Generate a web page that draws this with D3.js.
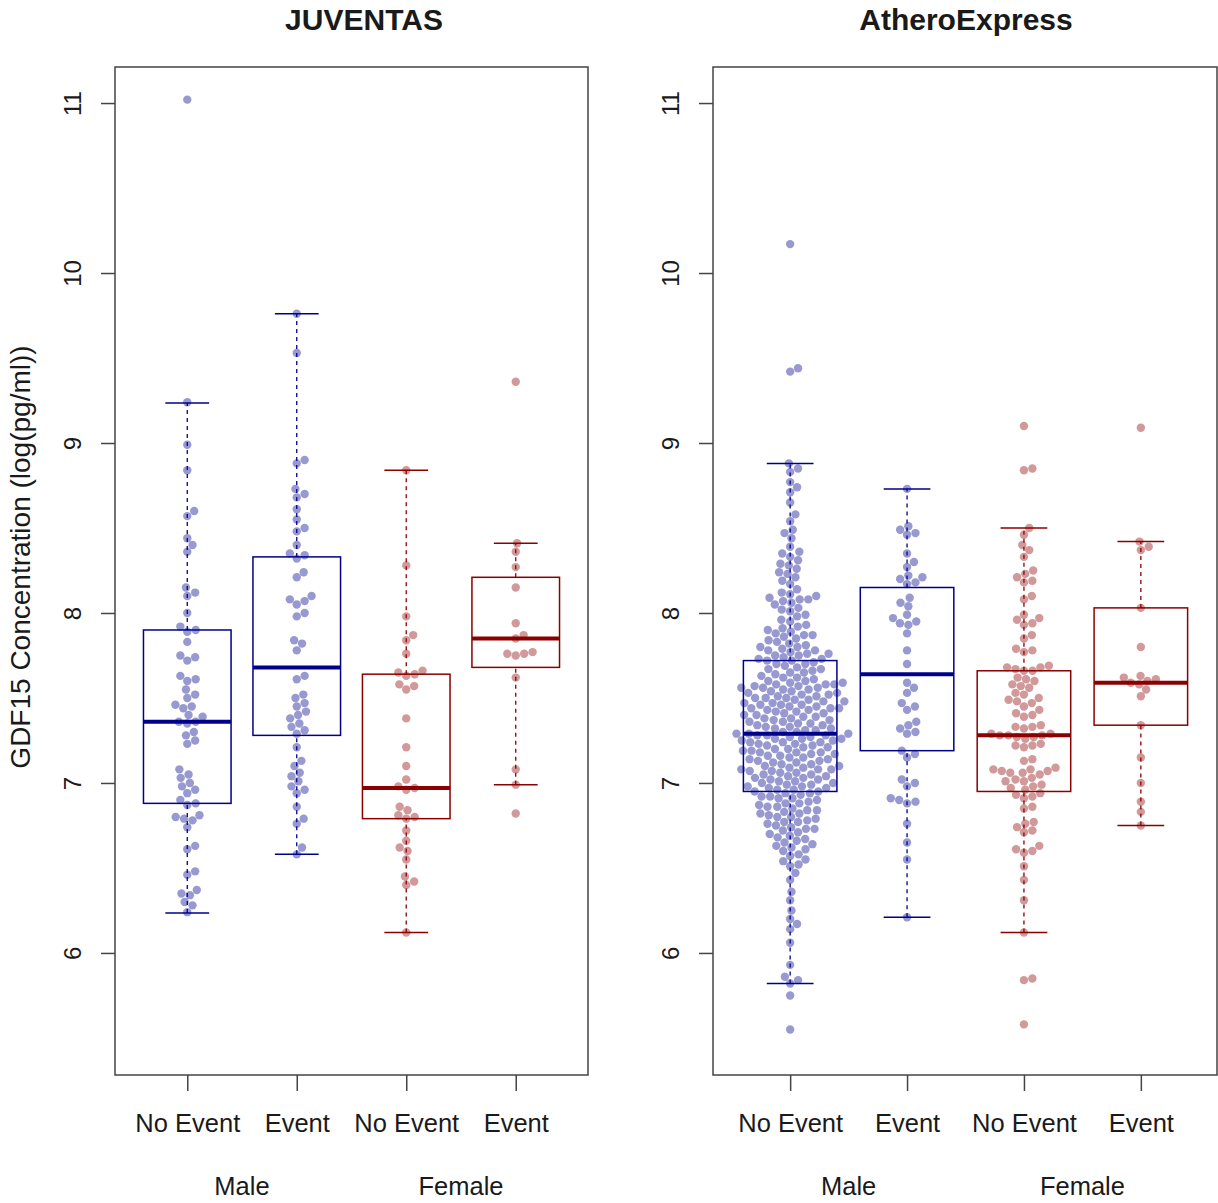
<!DOCTYPE html>
<html>
<head>
<meta charset="utf-8">
<script src="https://cdn.jsdelivr.net/npm/d3@7"></script>
<style>
  body { margin: 0; background: #fff; }
  text { font-family: "Liberation Sans", Arial, Helvetica, sans-serif; fill: #1a1a1a; }
</style>
</head>
<body>
<svg id="chart" width="1218" height="1203"></svg>
<script>
const panelTitles = ['JUVENTAS', 'AtheroExpress'];
const groupLabels = ['No Event', 'Event', 'No Event', 'Event'];
const sexLabels = ['Male', 'Female'];
const yTicks = [6, 7, 8, 9, 10, 11];
const yTitle = 'GDF15 Concentration (log(pg/ml))';

// JUVENTAS, log GDF15 per group
const juvMaleNoEvent = [11.02, 9.24, 8.99, 8.84, 8.60, 8.57, 8.44, 8.40, 8.36, 8.15, 8.12, 8.10, 8.00,
  7.92, 7.90, 7.89, 7.83, 7.75, 7.74, 7.72, 7.63, 7.61, 7.60, 7.55, 7.52, 7.50, 7.46, 7.45, 7.44,
  7.40, 7.39, 7.36, 7.36, 7.35, 7.30, 7.28, 7.25, 7.23, 7.08, 7.05, 7.03, 7.00, 6.98, 6.96, 6.94,
  6.90, 6.88, 6.87, 6.81, 6.80, 6.79, 6.78, 6.74, 6.63, 6.61, 6.48, 6.46, 6.37, 6.35, 6.34, 6.30,
  6.28, 6.24];
const juvMaleEvent = [9.76, 9.53, 8.90, 8.88, 8.73, 8.70, 8.68, 8.61, 8.55, 8.50, 8.48, 8.40, 8.35,
  8.34, 8.32, 8.24, 8.21, 8.10, 8.08, 8.07, 8.05, 8.00, 7.98, 7.84, 7.82, 7.78, 7.63, 7.61, 7.52,
  7.50, 7.47, 7.45, 7.42, 7.40, 7.38, 7.35, 7.33, 7.31, 7.29, 7.21, 7.13, 7.10, 7.06, 7.04, 7.01,
  6.98, 6.96, 6.94, 6.86, 6.79, 6.76, 6.62, 6.58];
const juvFemaleNoEvent = [8.84, 8.28, 7.98, 7.87, 7.84, 7.76, 7.66, 7.65, 7.64, 7.63, 7.58, 7.57,
  7.55, 7.38, 7.21, 7.10, 7.02, 6.98, 6.97, 6.96, 6.86, 6.84, 6.81, 6.80, 6.79, 6.72, 6.66, 6.62,
  6.60, 6.55, 6.45, 6.42, 6.40, 6.12];
const juvFemaleEvent = [9.36, 8.41, 8.36, 8.27, 8.15, 7.94, 7.87, 7.85, 7.77, 7.76, 7.76, 7.75,
  7.62, 7.08, 6.99, 6.82];

// AtheroExpress, log GDF15 per group
const aeMaleNoEvent = [10.17, 9.44, 9.42,
  8.88, 8.85, 8.83, 8.77, 8.74, 8.71, 8.65, 8.58, 8.54, 8.49, 8.47, 8.44,
  8.39, 8.36, 8.35, 8.33, 8.31, 8.29, 8.28, 8.26, 8.24, 8.23, 8.21, 8.19,
  8.17, 8.14, 8.12, 8.11, 8.10, 8.09, 8.08, 8.08, 8.07, 8.06, 8.05, 8.03, 8.02, 8.01,
  7.99, 7.98, 7.96, 7.95, 7.93, 7.92, 7.91, 7.90, 7.89, 7.88, 7.87, 7.87, 7.86, 7.85, 7.84, 7.83,
  7.82, 7.81, 7.80, 7.80, 7.79, 7.78, 7.78, 7.77, 7.76, 7.76, 7.75, 7.75, 7.74, 7.73, 7.73, 7.72,
  7.72, 7.71, 7.70, 7.70, 7.69, 7.68, 7.67, 7.67, 7.66, 7.65, 7.65, 7.64, 7.63, 7.62, 7.62, 7.61,
  7.60, 7.60, 7.59, 7.59, 7.58, 7.58, 7.58, 7.57, 7.57, 7.56, 7.56, 7.56, 7.55, 7.55, 7.54, 7.54,
  7.53, 7.53, 7.52, 7.52, 7.51, 7.51, 7.50, 7.50, 7.50, 7.49, 7.49, 7.48, 7.48, 7.47, 7.47, 7.46,
  7.46, 7.46, 7.45, 7.45, 7.44, 7.44, 7.44, 7.43, 7.43, 7.42, 7.42, 7.41, 7.41, 7.40, 7.40, 7.39,
  7.39, 7.38, 7.38, 7.37, 7.37, 7.36, 7.36, 7.35, 7.35, 7.34, 7.34, 7.33, 7.33, 7.32, 7.32, 7.31,
  7.31, 7.30, 7.30, 7.29, 7.29, 7.29, 7.28, 7.28, 7.28, 7.27, 7.27, 7.26, 7.26, 7.26, 7.25, 7.25,
  7.24, 7.24, 7.24, 7.23, 7.23, 7.22, 7.22, 7.21, 7.21, 7.20, 7.20, 7.19, 7.19, 7.18, 7.18, 7.18,
  7.17, 7.17, 7.16, 7.16, 7.15, 7.15, 7.14, 7.14, 7.13, 7.13, 7.12, 7.12, 7.11, 7.11, 7.10, 7.10,
  7.09, 7.09, 7.08, 7.08, 7.08, 7.07, 7.07, 7.06, 7.06, 7.05, 7.05, 7.04, 7.04, 7.03, 7.03, 7.02,
  7.02, 7.01, 7.01, 7.00, 7.00, 6.99, 6.99, 6.98, 6.98, 6.97, 6.97, 6.96, 6.96, 6.95, 6.95, 6.94,
  6.94, 6.93, 6.92, 6.92, 6.91, 6.91, 6.90, 6.89, 6.88, 6.88, 6.87, 6.86, 6.86, 6.85, 6.84, 6.84,
  6.83, 6.82, 6.82, 6.81, 6.80, 6.80, 6.79, 6.78, 6.77, 6.77, 6.76, 6.75, 6.74, 6.73, 6.73, 6.72,
  6.71, 6.70, 6.69, 6.68, 6.67, 6.66, 6.65, 6.64, 6.63, 6.62, 6.61, 6.60, 6.58, 6.57, 6.55, 6.54,
  6.52, 6.51, 6.47, 6.43, 6.36, 6.31, 6.25, 6.20, 6.17, 6.14, 6.06, 5.93, 5.86, 5.84, 5.82, 5.75, 5.55];
const aeMaleEvent = [8.73, 8.51, 8.49, 8.47, 8.46, 8.35, 8.30, 8.27, 8.22, 8.21, 8.20, 8.18, 8.17,
  8.09, 8.06, 8.04, 7.99, 7.97, 7.95, 7.94, 7.93, 7.88, 7.78, 7.70, 7.59, 7.56, 7.53, 7.47, 7.45,
  7.43, 7.36, 7.34, 7.32, 7.30, 7.29, 7.19, 7.17, 7.15, 7.02, 7.00, 6.98, 6.91, 6.90, 6.89, 6.88,
  6.76, 6.65, 6.55, 6.21];
const aeFemaleNoEvent = [9.10, 8.85, 8.84, 8.50, 8.46, 8.40, 8.37, 8.33, 8.25, 8.23, 8.21, 8.19, 8.18,
  8.10, 8.08, 7.99, 7.97, 7.96, 7.94, 7.93, 7.87, 7.85, 7.79, 7.78, 7.77, 7.69, 7.68, 7.68, 7.67,
  7.66, 7.66, 7.62, 7.61, 7.60, 7.58, 7.57, 7.56, 7.53, 7.52, 7.50, 7.49, 7.48, 7.47, 7.45, 7.43,
  7.41, 7.40, 7.39, 7.34, 7.33, 7.33, 7.32, 7.29, 7.29, 7.28, 7.28, 7.28, 7.27, 7.27, 7.26, 7.23,
  7.22, 7.22, 7.21, 7.14, 7.13, 7.09, 7.08, 7.08, 7.07, 7.07, 7.06, 7.06, 7.05, 7.03, 7.02, 7.01,
  7.01, 6.99, 6.98, 6.97, 6.96, 6.94, 6.93, 6.92, 6.91, 6.86, 6.85, 6.77, 6.76, 6.74, 6.72, 6.71,
  6.63, 6.61, 6.60, 6.59, 6.51, 6.43, 6.31, 6.12, 5.85, 5.84, 5.58];
const aeFemaleEvent = [9.09, 8.42, 8.39, 8.37, 8.03, 7.80, 7.63, 7.62, 7.61, 7.60, 7.59, 7.58, 7.55,
  7.51, 7.34, 7.15, 7.00, 6.89, 6.83, 6.75];

// box stats: [lower whisker, Q1, median, Q3, upper whisker]
const juvBoxStats = [
  [6.235, 6.88, 7.36, 7.90, 9.235],
  [6.58, 7.28, 7.68, 8.33, 9.76],
  [6.12, 6.79, 6.97, 7.64, 8.84],
  [6.99, 7.68, 7.85, 8.21, 8.41]
];
const aeBoxStats = [
  [5.82, 6.95, 7.29, 7.72, 8.88],
  [6.21, 7.19, 7.64, 8.15, 8.73],
  [6.12, 6.95, 7.28, 7.66, 8.50],
  [6.75, 7.34, 7.59, 8.03, 8.42]
];

const boxColors = ['#00008B', '#00008B', '#8B0000', '#8B0000'];

const panels = [
  { title: panelTitles[0], groups: [juvMaleNoEvent, juvMaleEvent, juvFemaleNoEvent, juvFemaleEvent],
    stats: juvBoxStats, left: 115, right: 588, titleX: 364, yLabel: true },
  { title: panelTitles[1], groups: [aeMaleNoEvent, aeMaleEvent, aeFemaleNoEvent, aeFemaleEvent],
    stats: aeBoxStats, left: 713, right: 1218, titleX: 966, yLabel: false }
];

const plotTop = 67, plotBottom = 1075;
const ptR = 4.2, ptGap = 8.6;
const svg = d3.select('#chart');

const y = d3.scaleLinear().domain([5.282, 11.212]).range([plotBottom, plotTop]);

// simple beeswarm: place points in ascending order at the smallest free offset
function swarm(vals, cx) {
  const pts = vals.map(v => ({ v, y: y(v) })).sort((a, b) => a.v - b.v);
  const placed = [];
  pts.forEach(p => {
    const near = placed.filter(q => Math.abs(q.y - p.y) < ptGap);
    const cands = [0];
    near.forEach(q => {
      const dx = Math.sqrt(ptGap * ptGap - (q.y - p.y) ** 2);
      cands.push(q.dx + dx, q.dx - dx);
    });
    cands.sort((a, b) => Math.abs(a) - Math.abs(b));
    for (const c of cands) {
      if (near.every(q => (q.dx - c) ** 2 + (q.y - p.y) ** 2 >= ptGap * ptGap - 0.01)) { p.dx = c; break; }
    }
    placed.push(p);
  });
  return placed.map(p => ({ v: p.v, x: cx + p.dx, y: p.y }));
}

panels.forEach(panel => {
  const x = d3.scaleLinear().domain([0.34, 4.66]).range([panel.left, panel.right]);
  const bw = (x(2) - x(1)) * 0.8;
  const g = svg.append('g');

  // points
  panel.groups.forEach((vals, i) => {
    g.append('g').selectAll('circle')
      .data(swarm(vals, x(i + 1)))
      .join('circle')
      .attr('cx', d => d.x)
      .attr('cy', d => d.y)
      .attr('r', ptR)
      .attr('fill', boxColors[i])
      .attr('fill-opacity', 0.4);
  });

  // boxes
  panel.stats.forEach((s, i) => {
    const cx = x(i + 1), col = boxColors[i];
    const bg = g.append('g').attr('stroke', col).attr('fill', 'none');
    bg.append('line').attr('x1', cx).attr('x2', cx).attr('y1', y(s[0])).attr('y2', y(s[1]))
      .attr('stroke-width', 1.3).attr('stroke-dasharray', '4,4');
    bg.append('line').attr('x1', cx).attr('x2', cx).attr('y1', y(s[3])).attr('y2', y(s[4]))
      .attr('stroke-width', 1.3).attr('stroke-dasharray', '4,4');
    [s[0], s[4]].forEach(v => {
      bg.append('line').attr('x1', cx - bw / 4).attr('x2', cx + bw / 4)
        .attr('y1', y(v)).attr('y2', y(v)).attr('stroke-width', 1.5);
    });
    bg.append('rect').attr('x', cx - bw / 2).attr('y', y(s[3]))
      .attr('width', bw).attr('height', y(s[1]) - y(s[3])).attr('stroke-width', 1.5);
    bg.append('line').attr('x1', cx - bw / 2).attr('x2', cx + bw / 2)
      .attr('y1', y(s[2])).attr('y2', y(s[2])).attr('stroke-width', 4);
  });

  // frame (kept inside the canvas on the right)
  const frameRight = Math.min(panel.right, 1217);
  g.append('rect').attr('x', panel.left).attr('y', plotTop)
    .attr('width', frameRight - panel.left).attr('height', plotBottom - plotTop)
    .attr('fill', 'none').attr('stroke', '#444').attr('stroke-width', 1.5);

  // y axis
  const ya = g.append('g').attr('transform', `translate(${panel.left},0)`)
    .call(d3.axisLeft(y).tickValues(yTicks).tickSize(14).tickFormat(d3.format('d')));
  ya.select('.domain').remove();
  ya.selectAll('.tick line').attr('stroke', '#444').attr('stroke-width', 1.5);
  ya.selectAll('.tick text')
    .attr('x', 0).attr('dy', null)
    .attr('transform', 'translate(-34,0) rotate(-90)')
    .attr('text-anchor', 'middle')
    .style('font-size', '24px').attr('fill', '#1a1a1a');

  // x axis
  const xa = g.append('g').attr('transform', `translate(0,${plotBottom})`)
    .call(d3.axisBottom(x).tickValues([1, 2, 3, 4]).tickSize(16).tickFormat((d, i) => groupLabels[i]));
  xa.select('.domain').remove();
  xa.selectAll('.tick line').attr('stroke', '#444').attr('stroke-width', 1.5);
  xa.selectAll('.tick text').attr('y', 57).attr('dy', null)
    .style('font-size', '25.5px').attr('fill', '#1a1a1a');

  // Male / Female
  sexLabels.forEach((lab, k) => {
    g.append('text').attr('x', x(1.5 + 2 * k)).attr('y', 1195)
      .attr('text-anchor', 'middle').style('font-size', '25.5px').text(lab);
  });

  // title
  g.append('text').attr('x', panel.titleX).attr('y', 30)
    .attr('text-anchor', 'middle').style('font-size', '30px').style('font-weight', 'bold')
    .text(panel.title);

  if (panel.yLabel) {
    g.append('text').attr('transform', 'translate(30,557) rotate(-90)')
      .attr('text-anchor', 'middle').style('font-size', '28px').text(yTitle);
  }
});
</script>
</body>
</html>
